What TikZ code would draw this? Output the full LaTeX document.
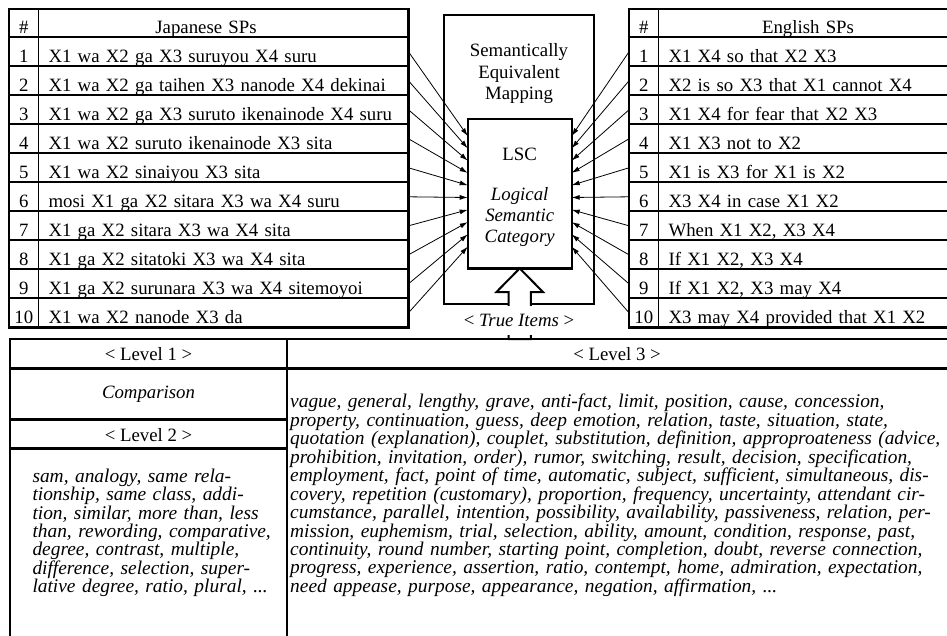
\documentclass[tikz,border=0pt]{standalone}
\usepackage{fontspec}
\setmainfont{Liberation Serif}
\usetikzlibrary{positioning,arrows.meta}

\tikzstyle{numcell} = [rectangle, draw=black, line width=1.8pt, minimum width=29.5pt, minimum height=29pt, inner sep=0pt, outer sep=0pt, text height=23pt, text depth=2pt]
\tikzstyle{spcell} = [numcell, minimum width=370pt, inner xsep=10pt, text width=350pt, align=left]
\tikzstyle{frame} = [line width=2.6pt]
\tikzstyle{bigbox} = [rectangle, draw=black, line width=2.4pt, inner sep=0pt, outer sep=0pt, align=center]
\tikzstyle{arrow} = [line width=0.8pt,->,>={Latex[length=8pt,width=5pt]}]
\tikzstyle{blockarrow} = [draw=black, fill=white, line width=2pt]
\tikzstyle{levcell} = [rectangle, draw=black, line width=2.4pt, minimum width=277pt, inner sep=0pt, outer sep=0pt]
\tikzstyle{items} = [inner sep=0pt, align=left, font=\itshape\fontsize{19.4}{18.45}\selectfont]

\begin{document}
\begin{tikzpicture}[x=1pt, y=-1pt, font=\fontsize{18.8}{21.3}\selectfont]
\useasboundingbox (0,0) rectangle (947,636);
\clip (0,0) rectangle (947,636);

% Japanese sentence patterns
\node (jnum) [numcell, minimum height=28.3pt] at (23.75,23.15) {\#};
\node (jhead) [spcell, minimum height=28.3pt, align=center, right=0pt of jnum] {\hspace*{-35pt}Japanese SPs};
\node (n1) [numcell, below=0pt of jnum] {1};
\node (j1) [spcell, right=0pt of n1] {X1 wa X2 ga X3 suruyou X4 suru};
\node (n2) [numcell, below=0pt of n1] {2};
\node (j2) [spcell, right=0pt of n2] {X1 wa X2 ga taihen X3 nanode X4 dekinai};
\node (n3) [numcell, below=0pt of n2] {3};
\node (j3) [spcell, right=0pt of n3] {X1 wa X2 ga X3 suruto ikenainode X4 suru};
\node (n4) [numcell, below=0pt of n3] {4};
\node (j4) [spcell, right=0pt of n4] {X1 wa X2 suruto ikenainode X3 sita};
\node (n5) [numcell, below=0pt of n4] {5};
\node (j5) [spcell, right=0pt of n5] {X1 wa X2 sinaiyou X3 sita};
\node (n6) [numcell, below=0pt of n5] {6};
\node (j6) [spcell, right=0pt of n6] {mosi X1 ga X2 sitara X3 wa X4 suru};
\node (n7) [numcell, below=0pt of n6] {7};
\node (j7) [spcell, right=0pt of n7] {X1 ga X2 sitara X3 wa X4 sita};
\node (n8) [numcell, below=0pt of n7] {8};
\node (j8) [spcell, right=0pt of n8] {X1 ga X2 sitatoki X3 wa X4 sita};
\node (n9) [numcell, below=0pt of n8] {9};
\node (j9) [spcell, right=0pt of n9] {X1 ga X2 surunara X3 wa X4 sitemoyoi};
\node (n10) [numcell, below=0pt of n9] {10};
\node (j10) [spcell, right=0pt of n10] {X1 wa X2 nanode X3 da};
\draw[frame] (jnum.north west) rectangle (j10.south east);

% English sentence patterns
\node (enum) [numcell, minimum height=28.3pt] at (643.75,23.15) {\#};
\node (ehead) [spcell, minimum width=340pt, text width=320pt, minimum height=28.3pt, align=center, right=0pt of enum] {\hspace*{-41pt}English SPs};
\node (m1) [numcell, below=0pt of enum] {1};
\node (e1) [spcell, minimum width=340pt, text width=320pt, right=0pt of m1] {X1 X4 so that X2 X3};
\node (m2) [numcell, below=0pt of m1] {2};
\node (e2) [spcell, minimum width=340pt, text width=320pt, right=0pt of m2] {X2 is so X3 that X1 cannot X4};
\node (m3) [numcell, below=0pt of m2] {3};
\node (e3) [spcell, minimum width=340pt, text width=320pt, right=0pt of m3] {X1 X4 for fear that X2 X3};
\node (m4) [numcell, below=0pt of m3] {4};
\node (e4) [spcell, minimum width=340pt, text width=320pt, right=0pt of m4] {X1 X3 not to X2};
\node (m5) [numcell, below=0pt of m4] {5};
\node (e5) [spcell, minimum width=340pt, text width=320pt, right=0pt of m5] {X1 is X3 for X1 is X2};
\node (m6) [numcell, below=0pt of m5] {6};
\node (e6) [spcell, minimum width=340pt, text width=320pt, right=0pt of m6] {X3 X4 in case X1 X2};
\node (m7) [numcell, below=0pt of m6] {7};
\node (e7) [spcell, minimum width=340pt, text width=320pt, right=0pt of m7] {When X1 X2, X3 X4};
\node (m8) [numcell, below=0pt of m7] {8};
\node (e8) [spcell, minimum width=340pt, text width=320pt, right=0pt of m8] {If X1 X2, X3 X4};
\node (m9) [numcell, below=0pt of m8] {9};
\node (e9) [spcell, minimum width=340pt, text width=320pt, right=0pt of m9] {If X1 X2, X3 may X4};
\node (m10) [numcell, below=0pt of m9] {10};
\node (e10) [spcell, minimum width=340pt, text width=320pt, right=0pt of m10] {X3 may X4 provided that X1 X2};
\draw[frame] (enum.north west) rectangle (e10.south east);

% mapping and LSC boxes
\node (mapping) [bigbox, minimum width=150pt, minimum height=289pt] at (519,159.5) {};
\node (maptext) [align=center, inner sep=0pt, below=28.5pt of mapping.north] {Semantically\\Equivalent\\Mapping};
\node (lsc) [bigbox, minimum width=104pt, minimum height=149.3pt, fill=white] at (519.7,193.7) {\rule{0pt}{19.8pt}LSC\\[18.5pt]\textit{Logical}\\\textit{Semantic}\\\textit{Category}};

\draw[arrow] (j1.east) -- ([yshift=57.7pt]lsc.west);
\draw[arrow] (j2.east) -- ([yshift=45.4pt]lsc.west);
\draw[arrow] (j3.east) -- ([yshift=33.1pt]lsc.west);
\draw[arrow] (j4.east) -- ([yshift=20.8pt]lsc.west);
\draw[arrow] (j5.east) -- ([yshift=8.5pt]lsc.west);
\draw[arrow] (j6.east) -- ([yshift=-3.8pt]lsc.west);
\draw[arrow] (j7.east) -- ([yshift=-16.1pt]lsc.west);
\draw[arrow] (j8.east) -- ([yshift=-28.4pt]lsc.west);
\draw[arrow] (j9.east) -- ([yshift=-40.7pt]lsc.west);
\draw[arrow] (j10.east) -- ([yshift=-53pt]lsc.west);

\draw[arrow] (m1.west) -- ([yshift=57.7pt]lsc.east);
\draw[arrow] (m2.west) -- ([yshift=45.4pt]lsc.east);
\draw[arrow] (m3.west) -- ([yshift=33.1pt]lsc.east);
\draw[arrow] (m4.west) -- ([yshift=20.8pt]lsc.east);
\draw[arrow] (m5.west) -- ([yshift=8.5pt]lsc.east);
\draw[arrow] (m6.west) -- ([yshift=-3.8pt]lsc.east);
\draw[arrow] (m7.west) -- ([yshift=-16.1pt]lsc.east);
\draw[arrow] (m8.west) -- ([yshift=-28.4pt]lsc.east);
\draw[arrow] (m9.west) -- ([yshift=-40.7pt]lsc.east);
\draw[arrow] (m10.west) -- ([yshift=-53pt]lsc.east);

% true items arrow
\draw[blockarrow] (lsc.south) -- ++(23.3,23.7) -- ++(-12.1,0) -- ++(0,47) -- ++(-22.4,0) -- ++(0,-47) -- ++(-12.1,0) -- cycle;
\node (trueitems) [fill=white, inner sep=0pt, minimum height=29pt] at (519,320.5) {< \textit{True Items} >};

% levels table
\node (lv1) [levcell, minimum height=29.3pt] at (148.5,353.65) {< Level 1 >};
\node (comp) [levcell, minimum height=51pt, below=0pt of lv1] {\textit{Comparison}};
\node (lv2) [levcell, minimum height=29pt, text height=16pt, below=0pt of comp] {< Level 2 >};
\node (lv2box) [levcell, minimum height=220pt, below=0pt of lv2] {};
\node (lv3) [levcell, minimum width=680pt, minimum height=29.3pt, right=0pt of lv1] {\hspace*{-20pt}< Level 3 >};
\node (lv3box) [levcell, minimum width=680pt, minimum height=300pt, below=0pt of lv3] {};

\node (lv2items) [items, text width=240pt, anchor=north west] at ([xshift=22.3pt,yshift=-20.2pt]lv2box.north west) {%
\makebox[237pt][s]{sam, analogy, same rela-}\\
\makebox[237pt][s]{tionship, same class, addi-}\\
\makebox[237pt][s]{tion, similar, more than, less}\\
\makebox[237pt][s]{than, rewording, comparative,}\\
\makebox[237pt][s]{degree, contrast, multiple,}\\
\makebox[237pt][s]{difference, selection, super-}\\
\makebox[237pt][s]{lative degree, ratio, plural, ...}};

\node (lv3items) [items, text width=680pt, anchor=north west] at ([xshift=3pt,yshift=-25.7pt]lv3box.north west) {%
\makebox[652pt][s]{vague, general, lengthy, grave, anti-fact, limit, position, cause, concession,}\\
\makebox[642pt][s]{property, continuation, guess, deep emotion, relation, taste, situation, state,}\\
\makebox[655pt][s]{quotation (explanation), couplet, substitution, definition, approproateness (advice,}\\
\makebox[663pt][s]{prohibition, invitation, order), rumor, switching, result, decision, specification,}\\
\makebox[652pt][s]{employment, fact, point of time, automatic, subject, sufficient, simultaneous, dis-}\\
\makebox[654pt][s]{covery, repetition (customary), proportion, frequency, uncertainty, attendant cir-}\\
\makebox[654pt][s]{cumstance, parallel, intention, possibility, availability, passiveness, relation, per-}\\
\makebox[654pt][s]{mission, euphemism, trial, selection, ability, amount, condition, response, past,}\\
\makebox[665pt][s]{continuity, round number, starting point, completion, doubt, reverse connection,}\\
\makebox[656pt][s]{progress, experience, assertion, ratio, contempt, home, admiration, expectation,}\\
need appease, purpose, appearance, negation, affirmation, ...};

\end{tikzpicture}
\end{document}
